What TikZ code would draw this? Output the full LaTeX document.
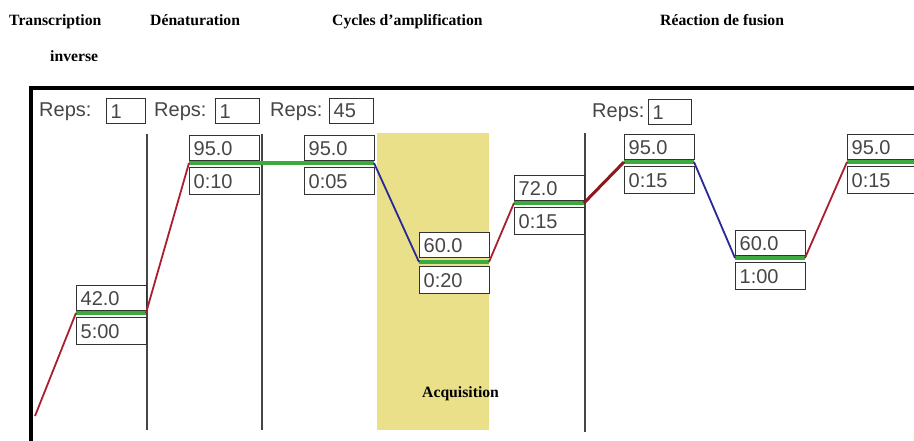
\documentclass[tikz,border=0pt]{standalone}
\usepackage{fontspec}
\setmainfont{Liberation Serif}
\newfontfamily\arialf{Liberation Sans}
\definecolor{acqyellow}{RGB}{234,224,138}
\definecolor{boxc}{RGB}{50,50,50}
\definecolor{txtc}{RGB}{70,70,70}
\definecolor{plat}{RGB}{60,170,60}
\definecolor{rampred}{RGB}{170,30,50}
\definecolor{rampdark}{RGB}{140,25,30}
\definecolor{rampblue}{RGB}{40,40,150}
\definecolor{divc}{RGB}{70,70,70}
\begin{document}
\begin{tikzpicture}[x=1pt,y=-1pt,
  hdr/.style={font=\fontsize{15.7}{18}\selectfont\bfseries, anchor=base west, inner sep=0pt},
  lbl/.style={font=\arialf\fontsize{20}{24}\selectfont, text=txtc, anchor=base west, inner sep=0pt},
  vbox/.style={draw=boxc, line width=1.3pt, fill=white, anchor=north west, inner xsep=4pt, inner ysep=0pt,
     text width=62pt, align=left, font=\arialf\fontsize{20}{24}\selectfont, text=txtc},
  tempbox/.style={vbox, minimum height=25pt},
  timebox/.style={vbox, minimum height=27pt},
  repsbox/.style={draw=boxc, line width=1.3pt, fill=white, anchor=north west, inner xsep=4pt, inner ysep=0pt,
     text width=#1, align=left, minimum height=25pt, font=\arialf\fontsize{20}{24}\selectfont, text=txtc},
  plateau/.style={draw=plat, line width=3.5pt},
  ramp/.style={draw=rampred, line width=1.8pt},
  rampthick/.style={draw=rampdark, line width=3pt},
  rampdown/.style={draw=rampblue, line width=1.8pt},
  divider/.style={draw=divc, line width=1.5pt},
  frame/.style={draw=black, line width=4pt}
]
\clip (0,0) rectangle (914,441);
\fill[white] (0,0) rectangle (914,441);

% headings
\node[hdr] (h1) at (9,26) {Transcription};
\node[hdr] (h1b) at (50,62) {inverse};
\node[hdr] (h2) at (150,26) {Dénaturation};
\node[hdr] (h3) at (332,26) {Cycles d’amplification};
\node[hdr] (h4) at (660,26) {Réaction de fusion};

% frame
\coordinate (ftl) at (31,88);
\coordinate (ftr) at (914,88);
\coordinate (fbl) at (31,441);
\draw[frame] (ftr) -- (ftl) -- (fbl);

% acquisition zone
\node[fill=acqyellow, inner sep=0pt, minimum width=112pt, minimum height=297pt, anchor=north west] (acq) at (377,133) {};
\node[hdr] (acqt) at (422,397) {Acquisition};

% dividers
\coordinate (d1t) at (147,134); \coordinate (d1b) at (147,430);
\coordinate (d2t) at (262,134); \coordinate (d2b) at (262,430);
\coordinate (d3t) at (585,133); \coordinate (d3b) at (585,432);
\draw[divider] (d1t) -- (d1b);
\draw[divider] (d2t) -- (d2b);
\draw[divider] (d3t) -- (d3b);

% reps
\node[lbl] (r1l) at (39,117) {Reps:};
\node[repsbox=31pt] (r1) at (106,98) {1};
\node[lbl] (r2l) at (154,117) {Reps:};
\node[repsbox=36pt] (r2) at (215,98) {1};
\node[lbl] (r3l) at (270,117) {Reps:};
\node[repsbox=36pt] (r3) at (329,98) {45};
\node[lbl] (r4l) at (592,118) {Reps:};
\node[repsbox=35pt] (r4) at (648,99) {1};

% steps: temp box at (L,P-28), time box at (L,P+4)
\node[tempbox] (t1) at (76,285) {42.0};
\node[timebox] (m1) at (76,317) {5:00};
\node[tempbox] (t2) at (189,135) {95.0};
\node[timebox] (m2) at (189,167) {0:10};
\node[tempbox] (t3) at (304,135) {95.0};
\node[timebox] (m3) at (304,167) {0:05};
\node[tempbox] (t4) at (419,232) {60.0};
\node[timebox] (m4) at (419,266) {0:20};
\node[tempbox] (t5) at (514,175) {72.0};
\node[timebox] (m5) at (514,207) {0:15};
\node[tempbox] (t6) at (624,134) {95.0};
\node[timebox] (m6) at (624,166) {0:15};
\node[tempbox] (t7) at (735,230) {60.0};
\node[timebox] (m7) at (735,262) {1:00};
\node[tempbox] (t8) at (847,134) {95.0};
\node[timebox] (m8) at (847,166) {0:15};

% plateau ends
\coordinate (a1) at (76,313);  \coordinate (b1) at (146,313);
\coordinate (a2) at (189,163); \coordinate (b2) at (259,163);
\coordinate (a3) at (304,163); \coordinate (b3) at (374,163);
\coordinate (a4) at (419,262); \coordinate (b4) at (489,262);
\coordinate (a5) at (514,203); \coordinate (b5) at (584,203);
\coordinate (a6) at (624,162); \coordinate (b6) at (694,162);
\coordinate (a7) at (735,258); \coordinate (b7) at (805,258);
\coordinate (a8) at (847,162); \coordinate (b8) at (920,162);
\coordinate (start) at (35,416);

\draw[plateau] (a1) -- (b1);
\draw[plateau] (a2) -- (b3);
\draw[plateau] (a4) -- (b4);
\draw[plateau] (a5) -- (b5);
\draw[plateau] (a6) -- (b6);
\draw[plateau] (a7) -- (b7);
\draw[plateau] (a8) -- (b8);

% ramps
\draw[ramp] (start) -- (a1);
\draw[ramp] (b1) -- (a2);
\draw[rampdown] (b3) -- (a4);
\draw[ramp] (b4) -- (a5);
\draw[rampthick] (b5) -- (a6);
\draw[rampdown] (b6) -- (a7);
\draw[ramp] (b7) -- (a8);
\end{tikzpicture}
\end{document}
